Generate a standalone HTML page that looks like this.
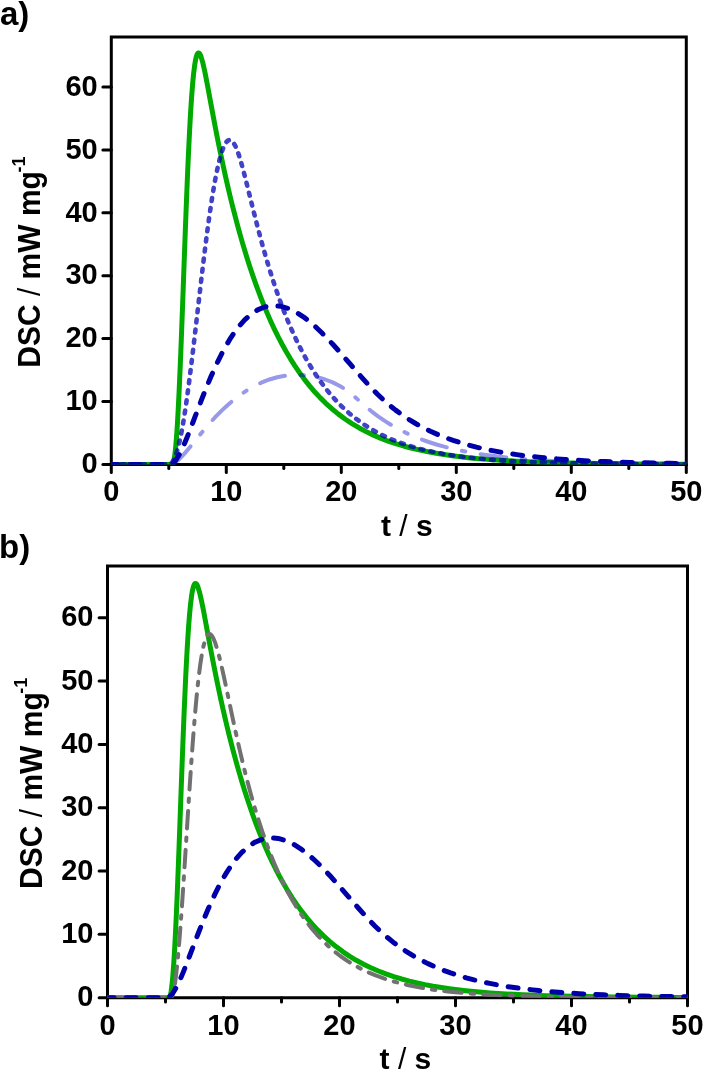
<!DOCTYPE html>
<html><head><meta charset="utf-8"><style>
html,body{margin:0;padding:0;background:#fff;width:703px;height:1070px;overflow:hidden}
svg{display:block;will-change:transform}
.tk{font-family:"Liberation Sans", sans-serif;font-weight:bold;font-size:29px;fill:#000}
.lab{font-family:"Liberation Sans", sans-serif;font-weight:bold;font-size:30px;fill:#000}
.pan{font-family:"Liberation Sans", sans-serif;font-weight:bold;font-size:33px;fill:#000}
</style></head><body>
<svg width="703" height="1070" viewBox="0 0 703 1070">
<path d="M111.3,36.9H686.3V464.4H111.3Z" fill="none" stroke="#000" stroke-width="3"/>
<line x1="111.30" y1="464.4" x2="111.30" y2="472.4" stroke="#000" stroke-width="3" stroke-linecap="round"/>
<text x="111.30" y="500.8" text-anchor="middle" class="tk">0</text>
<line x1="168.80" y1="464.4" x2="168.80" y2="468.6" stroke="#000" stroke-width="3" stroke-linecap="round"/>
<line x1="226.30" y1="464.4" x2="226.30" y2="472.4" stroke="#000" stroke-width="3" stroke-linecap="round"/>
<text x="226.30" y="500.8" text-anchor="middle" class="tk">10</text>
<line x1="283.80" y1="464.4" x2="283.80" y2="468.6" stroke="#000" stroke-width="3" stroke-linecap="round"/>
<line x1="341.30" y1="464.4" x2="341.30" y2="472.4" stroke="#000" stroke-width="3" stroke-linecap="round"/>
<text x="341.30" y="500.8" text-anchor="middle" class="tk">20</text>
<line x1="398.80" y1="464.4" x2="398.80" y2="468.6" stroke="#000" stroke-width="3" stroke-linecap="round"/>
<line x1="456.30" y1="464.4" x2="456.30" y2="472.4" stroke="#000" stroke-width="3" stroke-linecap="round"/>
<text x="456.30" y="500.8" text-anchor="middle" class="tk">30</text>
<line x1="513.80" y1="464.4" x2="513.80" y2="468.6" stroke="#000" stroke-width="3" stroke-linecap="round"/>
<line x1="571.30" y1="464.4" x2="571.30" y2="472.4" stroke="#000" stroke-width="3" stroke-linecap="round"/>
<text x="571.30" y="500.8" text-anchor="middle" class="tk">40</text>
<line x1="628.80" y1="464.4" x2="628.80" y2="468.6" stroke="#000" stroke-width="3" stroke-linecap="round"/>
<line x1="686.30" y1="464.4" x2="686.30" y2="472.4" stroke="#000" stroke-width="3" stroke-linecap="round"/>
<text x="686.30" y="500.8" text-anchor="middle" class="tk">50</text>
<line x1="102.89999999999999" y1="464.40" x2="111.3" y2="464.40" stroke="#000" stroke-width="3" stroke-linecap="round"/>
<text x="97.7" y="473.10" text-anchor="end" class="tk">0</text>
<line x1="102.89999999999999" y1="401.50" x2="111.3" y2="401.50" stroke="#000" stroke-width="3" stroke-linecap="round"/>
<text x="97.7" y="410.20" text-anchor="end" class="tk">10</text>
<line x1="102.89999999999999" y1="338.60" x2="111.3" y2="338.60" stroke="#000" stroke-width="3" stroke-linecap="round"/>
<text x="97.7" y="347.30" text-anchor="end" class="tk">20</text>
<line x1="102.89999999999999" y1="275.70" x2="111.3" y2="275.70" stroke="#000" stroke-width="3" stroke-linecap="round"/>
<text x="97.7" y="284.40" text-anchor="end" class="tk">30</text>
<line x1="102.89999999999999" y1="212.80" x2="111.3" y2="212.80" stroke="#000" stroke-width="3" stroke-linecap="round"/>
<text x="97.7" y="221.50" text-anchor="end" class="tk">40</text>
<line x1="102.89999999999999" y1="149.90" x2="111.3" y2="149.90" stroke="#000" stroke-width="3" stroke-linecap="round"/>
<text x="97.7" y="158.60" text-anchor="end" class="tk">50</text>
<line x1="102.89999999999999" y1="87.00" x2="111.3" y2="87.00" stroke="#000" stroke-width="3" stroke-linecap="round"/>
<text x="97.7" y="95.70" text-anchor="end" class="tk">60</text>
<clipPath id="ca"><rect x="111.3" y="36.9" width="575.0" height="427.5"/></clipPath>
<g clip-path="url(#ca)"><path d="M111.30,464.40 L119.35,464.40 L127.40,464.40 L135.45,464.40 L143.50,464.40 L151.55,464.40 L159.60,464.40 L167.65,464.40 L172.25,464.39 L172.54,464.26 L172.82,463.95 L173.11,463.43 L173.69,461.68 L174.26,458.89 L175.12,452.65 L175.99,443.84 L176.85,432.47 L177.43,423.51 L178.00,413.50 L178.57,402.50 L179.15,390.58 L179.72,377.82 L180.30,364.31 L180.88,350.16 L181.45,335.46 L182.02,320.33 L182.60,304.88 L183.18,289.22 L183.75,273.46 L184.32,257.72 L184.90,242.10 L185.47,226.71 L186.05,211.65 L186.62,197.00 L187.20,182.85 L187.77,169.27 L188.35,156.32 L188.93,144.07 L189.50,132.56 L190.07,121.82 L190.65,111.89 L191.22,102.77 L191.80,94.48 L192.66,83.58 L193.52,74.51 L194.68,65.13 L195.54,60.00 L196.40,56.37 L196.97,54.72 L197.55,53.63 L197.84,53.28 L198.12,53.06 L198.41,52.96 L198.70,52.98 L198.99,53.10 L199.56,53.65 L200.14,54.58 L201.00,56.59 L202.72,62.40 L204.74,71.28 L206.46,79.94 L208.19,89.10 L209.91,98.46 L211.64,107.82 L213.36,117.06 L215.09,126.14 L216.81,135.01 L218.54,143.67 L220.26,152.10 L221.99,160.32 L223.71,168.32 L225.73,177.39 L227.74,186.18 L229.75,194.70 L231.76,202.97 L233.77,210.97 L235.79,218.74 L238.09,227.32 L240.39,235.60 L242.69,243.59 L244.99,251.30 L247.57,259.66 L250.16,267.69 L252.75,275.40 L255.62,283.62 L258.50,291.47 L261.38,298.99 L264.54,306.88 L267.70,314.40 L271.15,322.19 L274.60,329.57 L278.34,337.14 L282.07,344.28 L286.10,351.53 L290.41,358.81 L294.73,365.61 L299.32,372.39 L304.21,379.09 L309.39,385.64 L314.85,392.02 L320.31,397.88 L326.06,403.54 L332.10,408.96 L338.43,414.12 L345.04,419.00 L351.94,423.59 L358.84,427.72 L366.03,431.58 L373.50,435.16 L380.98,438.35 L388.74,441.29 L396.50,443.90 L404.26,446.22 L412.03,448.27 L420.07,450.16 L428.12,451.82 L436.18,453.29 L444.23,454.59 L452.28,455.74 L460.32,456.75 L468.38,457.65 L476.43,458.44 L484.48,459.13 L492.53,459.75 L500.57,460.29 L508.63,460.77 L516.67,461.20 L524.73,461.57 L532.77,461.90 L540.82,462.19 L548.88,462.45 L556.92,462.68 L564.98,462.88 L573.03,463.06 L581.07,463.21 L589.12,463.35 L597.17,463.48 L605.23,463.58 L613.28,463.68 L621.32,463.76 L629.38,463.84 L637.42,463.90 L645.47,463.96 L653.52,464.01 L661.57,464.06 L669.62,464.10 L677.67,464.13 L685.72,464.16 L686.30,464.17" fill="none" stroke="#00aa00" stroke-width="5" stroke-linecap="round" stroke-linejoin="round"/>
<path d="M111.30,464.40 L119.35,464.40 L127.40,464.40 L135.45,464.40 L143.50,464.40 L151.55,464.40 L159.60,464.40 L167.65,464.40 L171.10,464.25 L173.69,463.34 L178.29,460.06 L184.04,454.13 L189.21,447.98 L194.39,441.58 L199.56,435.19 L204.74,428.96 L210.20,422.67 L215.66,416.72 L221.41,410.86 L227.45,405.19 L233.77,399.79 L240.39,394.73 L247.29,390.10 L254.48,385.95 L261.95,382.36 L269.43,379.49 L277.19,377.25 L285.24,375.71 L293.29,374.95 L301.34,374.95 L309.39,375.72 L317.44,377.26 L325.20,379.51 L332.68,382.41 L339.86,385.98 L346.76,390.27 L353.09,395.29 L359.12,400.73 L365.16,406.07 L371.49,411.31 L378.10,416.33 L384.71,420.89 L391.61,425.19 L398.80,429.22 L405.99,432.84 L413.46,436.21 L420.94,439.22 L428.70,442.00 L436.46,444.48 L444.23,446.68 L451.99,448.64 L460.04,450.44 L468.09,452.04 L476.14,453.46 L484.19,454.71 L492.24,455.82 L500.29,456.80 L508.34,457.67 L516.39,458.44 L524.44,459.12 L532.49,459.73 L540.54,460.26 L548.59,460.73 L556.64,461.15 L564.69,461.53 L572.74,461.85 L580.79,462.15 L588.84,462.40 L596.89,462.63 L604.94,462.83 L612.99,463.01 L621.04,463.17 L629.09,463.31 L637.14,463.44 L645.19,463.55 L653.24,463.64 L661.29,463.73 L669.34,463.81 L677.39,463.88 L685.44,463.94 L686.30,463.94" fill="none" stroke="#0000c8" stroke-opacity="0.4" stroke-width="4" stroke-dasharray="26 15.5 3.5 15.5" stroke-linecap="round" stroke-linejoin="round"/>
<path d="M111.30,464.40 L119.35,464.40 L127.40,464.40 L135.45,464.40 L143.50,464.40 L151.55,464.40 L159.60,464.40 L167.65,464.39 L169.38,464.15 L170.53,463.64 L171.68,462.73 L172.82,461.33 L174.26,458.83 L175.99,454.64 L178.29,446.94 L180.30,438.26 L182.02,429.43 L183.46,421.16 L184.90,412.13 L186.34,402.42 L187.49,394.20 L188.64,385.62 L189.79,376.74 L190.94,367.58 L192.09,358.19 L193.24,348.61 L194.39,338.89 L195.54,329.05 L196.69,319.16 L197.84,309.23 L198.99,299.31 L200.14,289.45 L201.29,279.66 L202.44,270.00 L203.59,260.49 L204.74,251.17 L205.89,242.06 L207.04,233.20 L208.19,224.62 L209.34,216.33 L210.49,208.38 L211.93,198.93 L213.36,190.07 L214.80,181.85 L216.52,172.86 L218.25,164.88 L220.26,156.92 L222.85,148.88 L224.86,144.40 L226.30,142.15 L227.45,140.93 L228.60,140.21 L229.46,140.01 L230.33,140.09 L231.19,140.45 L232.34,141.35 L233.77,143.15 L235.79,146.85 L238.66,154.31 L241.25,162.79 L243.55,171.24 L245.56,179.05 L247.57,187.07 L249.59,195.19 L251.60,203.31 L253.61,211.37 L255.62,219.31 L257.64,227.11 L259.94,235.81 L262.24,244.26 L264.54,252.45 L266.84,260.38 L269.43,268.98 L272.01,277.23 L274.60,285.16 L277.19,292.77 L280.06,300.85 L282.94,308.55 L286.10,316.62 L289.26,324.27 L292.71,332.16 L296.16,339.62 L299.90,347.22 L303.64,354.36 L307.66,361.56 L311.98,368.76 L316.57,375.88 L321.18,382.48 L326.06,388.94 L331.24,395.23 L336.70,401.31 L342.45,407.13 L348.49,412.66 L354.81,417.88 L361.43,422.78 L368.32,427.34 L375.23,431.40 L382.41,435.16 L389.89,438.62 L397.36,441.66 L405.12,444.45 L412.89,446.89 L420.65,449.03 L428.70,450.98 L436.75,452.68 L444.80,454.16 L452.85,455.46 L460.90,456.59 L468.95,457.58 L477.00,458.45 L485.05,459.20 L493.10,459.86 L501.15,460.43 L509.20,460.94 L517.25,461.38 L525.30,461.76 L533.35,462.09 L541.40,462.39 L549.45,462.64 L557.50,462.86 L565.55,463.06 L573.60,463.23 L581.65,463.38 L589.70,463.51 L597.75,463.62 L605.80,463.72 L613.85,463.80 L621.90,463.88 L629.95,463.95 L638.00,464.00 L646.05,464.05 L654.10,464.10 L662.15,464.14 L670.20,464.17 L678.25,464.20 L686.30,464.22" fill="none" stroke="#0000b6" stroke-opacity="0.74" stroke-width="4.6" stroke-dasharray="3 7.2" stroke-linecap="round" stroke-linejoin="round"/>
<path d="M111.30,464.40 L119.35,464.40 L127.40,464.40 L135.45,464.40 L143.50,464.40 L151.55,464.40 L159.60,464.40 L167.65,464.40 L170.53,464.31 L171.96,463.82 L173.69,462.61 L175.99,460.03 L180.01,453.33 L183.46,446.01 L186.62,438.49 L189.79,430.49 L192.66,422.99 L195.54,415.41 L198.41,407.84 L201.29,400.37 L204.45,392.33 L207.61,384.54 L210.77,377.03 L214.23,369.21 L217.68,361.81 L221.41,354.29 L225.44,346.79 L229.75,339.48 L234.35,332.49 L239.24,326.00 L244.70,319.86 L250.74,314.42 L257.64,309.86 L265.11,306.81 L273.16,305.59 L281.21,306.32 L288.98,308.70 L296.45,312.38 L303.35,316.83 L309.96,321.94 L316.00,327.22 L322.04,333.00 L327.79,338.90 L333.25,344.79 L338.71,350.88 L344.18,357.12 L349.64,363.44 L355.10,369.77 L360.56,376.04 L366.03,382.18 L371.49,388.10 L377.24,393.99 L383.28,399.73 L389.31,405.03 L395.64,410.12 L402.25,414.97 L409.15,419.58 L416.05,423.76 L423.24,427.70 L430.43,431.26 L437.90,434.59 L445.38,437.59 L453.14,440.38 L460.90,442.89 L468.66,445.13 L476.43,447.14 L484.48,449.00 L492.53,450.66 L500.57,452.15 L508.63,453.47 L516.67,454.65 L524.73,455.70 L532.77,456.64 L540.82,457.48 L548.88,458.22 L556.92,458.89 L564.98,459.48 L573.03,460.02 L581.07,460.49 L589.12,460.91 L597.17,461.29 L605.23,461.62 L613.28,461.92 L621.32,462.19 L629.38,462.43 L637.42,462.64 L645.47,462.83 L653.52,463.00 L661.57,463.15 L669.62,463.29 L677.67,463.41 L685.72,463.51 L686.30,463.52" fill="none" stroke="#0000aa" stroke-width="5" stroke-dasharray="10 12" stroke-dashoffset="3.4" stroke-linecap="round" stroke-linejoin="round"/></g>
<text x="381" y="535.5" class="lab">t <tspan font-weight="normal">/</tspan> s</text>
<text transform="translate(40.1,367.7) rotate(-90) scale(1,1.05)" class="lab">DSC <tspan font-weight="normal">/</tspan> mW mg<tspan font-size="18" dy="-14" dx="-1.5">-1</tspan></text>
<text x="0" y="25" class="pan">a)</text>
<path d="M107.5,566H687.5V997.7H107.5Z" fill="none" stroke="#000" stroke-width="3"/>
<line x1="107.50" y1="997.7" x2="107.50" y2="1005.7" stroke="#000" stroke-width="3" stroke-linecap="round"/>
<text x="107.50" y="1035" text-anchor="middle" class="tk">0</text>
<line x1="165.50" y1="997.7" x2="165.50" y2="1001.9" stroke="#000" stroke-width="3" stroke-linecap="round"/>
<line x1="223.50" y1="997.7" x2="223.50" y2="1005.7" stroke="#000" stroke-width="3" stroke-linecap="round"/>
<text x="223.50" y="1035" text-anchor="middle" class="tk">10</text>
<line x1="281.50" y1="997.7" x2="281.50" y2="1001.9" stroke="#000" stroke-width="3" stroke-linecap="round"/>
<line x1="339.50" y1="997.7" x2="339.50" y2="1005.7" stroke="#000" stroke-width="3" stroke-linecap="round"/>
<text x="339.50" y="1035" text-anchor="middle" class="tk">20</text>
<line x1="397.50" y1="997.7" x2="397.50" y2="1001.9" stroke="#000" stroke-width="3" stroke-linecap="round"/>
<line x1="455.50" y1="997.7" x2="455.50" y2="1005.7" stroke="#000" stroke-width="3" stroke-linecap="round"/>
<text x="455.50" y="1035" text-anchor="middle" class="tk">30</text>
<line x1="513.50" y1="997.7" x2="513.50" y2="1001.9" stroke="#000" stroke-width="3" stroke-linecap="round"/>
<line x1="571.50" y1="997.7" x2="571.50" y2="1005.7" stroke="#000" stroke-width="3" stroke-linecap="round"/>
<text x="571.50" y="1035" text-anchor="middle" class="tk">40</text>
<line x1="629.50" y1="997.7" x2="629.50" y2="1001.9" stroke="#000" stroke-width="3" stroke-linecap="round"/>
<line x1="687.50" y1="997.7" x2="687.50" y2="1005.7" stroke="#000" stroke-width="3" stroke-linecap="round"/>
<text x="687.50" y="1035" text-anchor="middle" class="tk">50</text>
<line x1="99.1" y1="997.70" x2="107.5" y2="997.70" stroke="#000" stroke-width="3" stroke-linecap="round"/>
<text x="93.5" y="1006.20" text-anchor="end" class="tk">0</text>
<line x1="99.1" y1="934.37" x2="107.5" y2="934.37" stroke="#000" stroke-width="3" stroke-linecap="round"/>
<text x="93.5" y="942.87" text-anchor="end" class="tk">10</text>
<line x1="99.1" y1="871.04" x2="107.5" y2="871.04" stroke="#000" stroke-width="3" stroke-linecap="round"/>
<text x="93.5" y="879.54" text-anchor="end" class="tk">20</text>
<line x1="99.1" y1="807.71" x2="107.5" y2="807.71" stroke="#000" stroke-width="3" stroke-linecap="round"/>
<text x="93.5" y="816.21" text-anchor="end" class="tk">30</text>
<line x1="99.1" y1="744.38" x2="107.5" y2="744.38" stroke="#000" stroke-width="3" stroke-linecap="round"/>
<text x="93.5" y="752.88" text-anchor="end" class="tk">40</text>
<line x1="99.1" y1="681.05" x2="107.5" y2="681.05" stroke="#000" stroke-width="3" stroke-linecap="round"/>
<text x="93.5" y="689.55" text-anchor="end" class="tk">50</text>
<line x1="99.1" y1="617.72" x2="107.5" y2="617.72" stroke="#000" stroke-width="3" stroke-linecap="round"/>
<text x="93.5" y="626.22" text-anchor="end" class="tk">60</text>
<clipPath id="cb"><rect x="107.5" y="566" width="580.0" height="431.70000000000005"/></clipPath>
<g clip-path="url(#cb)"><path d="M107.50,997.70 L115.62,997.70 L123.74,997.70 L131.86,997.70 L139.98,997.70 L148.10,997.70 L156.22,997.70 L164.34,997.70 L168.98,997.69 L169.27,997.56 L169.56,997.25 L169.85,996.72 L170.43,994.96 L171.01,992.16 L171.88,985.87 L172.75,977.00 L173.62,965.55 L174.20,956.53 L174.78,946.45 L175.36,935.38 L175.94,923.37 L176.52,910.53 L177.10,896.93 L177.68,882.68 L178.26,867.88 L178.84,852.65 L179.42,837.09 L180.00,821.32 L180.58,805.46 L181.16,789.61 L181.74,773.88 L182.32,758.39 L182.90,743.22 L183.48,728.47 L184.06,714.22 L184.64,700.55 L185.22,687.52 L185.80,675.18 L186.38,663.59 L186.96,652.78 L187.54,642.78 L188.12,633.60 L188.70,625.25 L189.57,614.28 L190.44,605.15 L191.60,595.70 L192.47,590.54 L193.34,586.88 L193.92,585.22 L194.50,584.12 L194.79,583.77 L195.08,583.55 L195.37,583.45 L195.66,583.46 L195.95,583.59 L196.53,584.14 L197.11,585.08 L197.98,587.10 L199.72,592.96 L201.75,601.89 L203.49,610.61 L205.23,619.84 L206.97,629.26 L208.71,638.68 L210.45,647.99 L212.19,657.13 L213.93,666.06 L215.67,674.77 L217.41,683.27 L219.15,691.54 L220.89,699.60 L222.63,707.44 L224.66,716.33 L226.69,724.95 L228.72,733.31 L230.75,741.41 L232.78,749.26 L235.10,757.93 L237.42,766.31 L239.74,774.39 L242.06,782.19 L244.67,790.64 L247.28,798.76 L249.89,806.56 L252.79,814.87 L255.69,822.82 L258.59,830.42 L261.78,838.40 L264.97,846.00 L268.45,853.88 L271.93,861.35 L275.70,869.00 L279.47,876.22 L283.53,883.55 L287.88,890.91 L292.23,897.80 L296.87,904.65 L301.80,911.42 L307.02,918.05 L312.24,924.18 L317.75,930.13 L323.55,935.87 L329.64,941.38 L336.02,946.62 L342.69,951.59 L349.36,956.06 L356.32,960.27 L363.57,964.21 L370.82,967.73 L378.36,971.00 L385.90,973.91 L393.73,976.60 L401.56,978.98 L409.39,981.10 L417.22,982.97 L425.05,984.64 L433.17,986.17 L441.29,987.51 L449.41,988.71 L457.53,989.76 L465.65,990.69 L473.77,991.51 L481.89,992.23 L490.01,992.87 L498.13,993.43 L506.25,993.93 L514.37,994.37 L522.49,994.76 L530.61,995.11 L538.73,995.41 L546.85,995.68 L554.97,995.91 L563.09,996.12 L571.21,996.31 L579.33,996.47 L587.45,996.61 L595.57,996.74 L603.69,996.85 L611.81,996.95 L619.93,997.04 L628.05,997.12 L636.17,997.18 L644.29,997.24 L652.41,997.30 L660.53,997.34 L668.65,997.39 L676.77,997.42 L684.89,997.46 L687.50,997.46" fill="none" stroke="#00aa00" stroke-width="5" stroke-linecap="round" stroke-linejoin="round"/>
<path d="M107.50,997.70 L115.62,997.70 L123.74,997.70 L131.86,997.70 L139.98,997.70 L148.10,997.70 L156.22,997.70 L164.34,997.70 L170.72,997.70 L171.01,997.65 L171.30,997.47 L171.59,997.16 L172.17,996.14 L172.75,994.57 L173.62,991.17 L174.78,984.73 L175.94,976.23 L177.10,965.82 L177.97,956.85 L178.84,946.99 L179.71,936.32 L180.58,924.94 L181.45,912.93 L182.03,904.63 L182.61,896.13 L183.19,887.45 L183.77,878.63 L184.35,869.69 L184.93,860.65 L185.51,851.56 L186.09,842.43 L186.67,833.29 L187.25,824.17 L187.83,815.09 L188.41,806.07 L188.99,797.14 L189.57,788.33 L190.15,779.64 L190.73,771.11 L191.31,762.74 L191.89,754.56 L192.76,742.68 L193.63,731.30 L194.50,720.48 L195.37,710.23 L196.24,700.60 L197.11,691.61 L197.98,683.28 L199.14,673.22 L200.30,664.35 L201.75,654.96 L203.49,646.12 L204.94,640.69 L206.10,637.56 L206.97,635.88 L207.84,634.74 L208.42,634.27 L209.00,634.02 L209.58,633.98 L210.16,634.14 L211.03,634.75 L211.90,635.77 L213.35,638.29 L215.38,643.34 L217.99,651.90 L220.02,659.77 L222.05,668.40 L223.79,676.22 L225.53,684.30 L227.27,692.53 L229.01,700.82 L230.75,709.10 L232.49,717.33 L234.23,725.44 L235.97,733.43 L237.71,741.25 L239.74,750.14 L241.77,758.78 L243.80,767.16 L245.83,775.26 L247.86,783.09 L250.18,791.72 L252.50,800.01 L254.82,807.97 L257.43,816.54 L260.04,824.73 L262.65,832.55 L265.55,840.82 L268.45,848.68 L271.35,856.15 L274.54,863.93 L277.73,871.29 L281.21,878.85 L284.98,886.53 L288.75,893.72 L292.81,900.94 L297.16,908.12 L301.80,915.19 L306.73,922.09 L311.66,928.42 L316.88,934.54 L322.39,940.42 L328.19,946.01 L334.28,951.30 L340.66,956.26 L347.33,960.88 L354.29,965.15 L361.54,969.08 L368.79,972.53 L376.33,975.67 L383.87,978.43 L391.70,980.92 L399.53,983.10 L407.36,984.99 L415.19,986.64 L423.31,988.12 L431.43,989.40 L439.55,990.51 L447.67,991.48 L455.79,992.31 L463.91,993.03 L472.03,993.66 L480.15,994.20 L488.27,994.67 L496.39,995.07 L504.51,995.43 L512.63,995.73 L520.75,995.99 L528.87,996.22 L536.99,996.42 L545.11,996.59 L553.23,996.74 L561.35,996.87 L569.47,996.98 L577.59,997.08 L585.71,997.16 L593.83,997.23 L601.95,997.29 L610.07,997.35 L618.19,997.40 L626.31,997.44 L634.43,997.47 L642.55,997.50 L650.67,997.53 L658.79,997.55 L666.91,997.57 L675.03,997.59 L683.15,997.60 L687.50,997.61" fill="none" stroke="#717171" stroke-width="4" stroke-dasharray="17.5 9 3.5 9" stroke-linecap="round" stroke-linejoin="round"/>
<path d="M107.50,997.70 L115.62,997.70 L123.74,997.70 L131.86,997.70 L139.98,997.70 L148.10,997.70 L156.22,997.70 L164.34,997.70 L167.24,997.61 L168.69,997.11 L170.43,995.90 L172.75,993.30 L176.81,986.56 L180.29,979.19 L183.48,971.61 L186.67,963.55 L189.57,956.00 L192.47,948.37 L195.37,940.76 L198.27,933.24 L201.46,925.14 L204.65,917.29 L207.84,909.73 L211.32,901.86 L214.80,894.40 L218.57,886.83 L222.63,879.29 L226.69,872.39 L231.33,865.30 L236.26,858.71 L241.77,852.47 L247.86,846.92 L254.53,842.42 L262.07,839.20 L270.19,837.83 L278.31,838.43 L286.14,840.71 L293.39,844.15 L300.35,848.51 L307.02,853.55 L313.11,858.79 L319.20,864.55 L325.00,870.43 L330.51,876.32 L336.02,882.43 L341.53,888.69 L347.04,895.04 L352.55,901.42 L358.06,907.75 L363.57,913.96 L369.08,919.96 L374.88,925.94 L380.68,931.52 L386.77,936.94 L393.15,942.15 L399.82,947.12 L406.49,951.65 L413.45,955.94 L420.70,959.99 L427.95,963.64 L435.49,967.07 L443.03,970.15 L450.57,972.92 L458.40,975.51 L466.23,977.82 L474.06,979.89 L481.89,981.75 L489.72,983.41 L497.84,984.95 L505.96,986.33 L514.08,987.56 L522.20,988.65 L530.32,989.63 L538.44,990.50 L546.56,991.28 L554.68,991.97 L562.80,992.59 L570.92,993.14 L579.04,993.63 L587.16,994.07 L595.28,994.46 L603.40,994.81 L611.52,995.12 L619.64,995.40 L627.76,995.65 L635.88,995.87 L644.00,996.07 L652.12,996.24 L660.24,996.40 L668.36,996.54 L676.48,996.67 L684.60,996.78 L687.50,996.81" fill="none" stroke="#0000aa" stroke-width="5" stroke-dasharray="10 12" stroke-dashoffset="3.4" stroke-linecap="round" stroke-linejoin="round"/></g>
<text x="379.6" y="1069" class="lab">t <tspan font-weight="normal">/</tspan> s</text>
<text transform="translate(42,888.9) rotate(-90) scale(1,1.05)" class="lab">DSC <tspan font-weight="normal">/</tspan> mW mg<tspan font-size="18" dy="-14" dx="-1.5">-1</tspan></text>
<text x="-1" y="557.8" class="pan">b)</text>
</svg>
</body></html>
